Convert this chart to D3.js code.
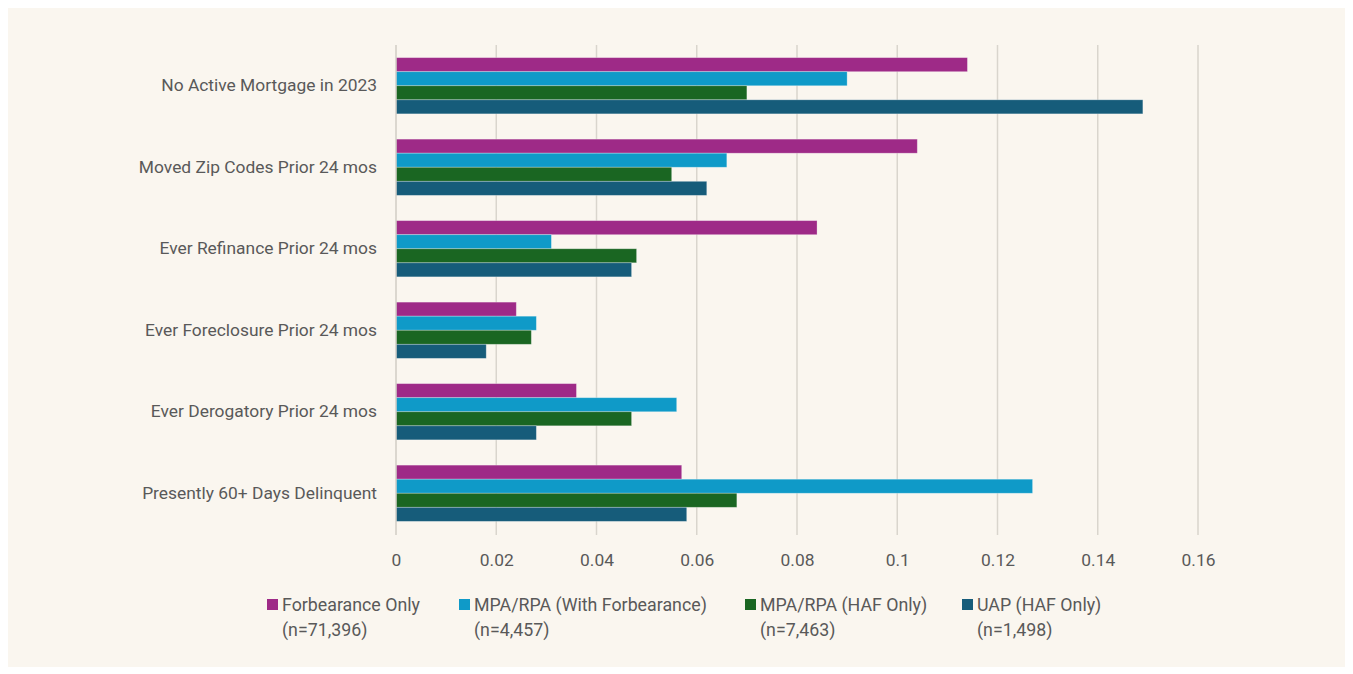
<!DOCTYPE html>
<html>
<head>
<meta charset="utf-8">
<script src="https://cdn.jsdelivr.net/npm/d3@7"></script>
<style>
  html, body { margin: 0; padding: 0; background: #ffffff; }
  svg { display: block; }
  text { font-family: "Roboto", "Liberation Sans", sans-serif; fill: #595959; }
</style>
</head>
<body>
<svg id="chart" width="1353" height="674"></svg>
<script>
const categories = [
  "No Active Mortgage in 2023",
  "Moved Zip Codes Prior 24 mos",
  "Ever Refinance Prior 24 mos",
  "Ever Foreclosure Prior 24 mos",
  "Ever Derogatory Prior 24 mos",
  "Presently 60+ Days Delinquent"
];
const seriesNames = ["Forbearance Only", "MPA/RPA (With Forbearance)", "MPA/RPA (HAF Only)", "UAP (HAF Only)"];
const seriesCounts = ["(n=71,396)", "(n=4,457)", "(n=7,463)", "(n=1,498)"];
const seriesColors = ["#9e2a87", "#0f9ac8", "#1a6622", "#165c7a"];
const forbearanceOnly = [0.114, 0.104, 0.084, 0.024, 0.036, 0.057];
const mpaWithForbearance = [0.090, 0.066, 0.031, 0.028, 0.056, 0.127];
const mpaHafOnly = [0.070, 0.055, 0.048, 0.027, 0.047, 0.068];
const uapHafOnly = [0.149, 0.062, 0.047, 0.018, 0.028, 0.058];
const xTicks = [0, 0.02, 0.04, 0.06, 0.08, 0.1, 0.12, 0.14, 0.16];

const seriesValues = [forbearanceOnly, mpaWithForbearance, mpaHafOnly, uapHafOnly];

const svg = d3.select("#chart");
svg.append("rect").attr("x", 8).attr("y", 8).attr("width", 1337).attr("height", 659).attr("fill", "#faf6ef");

const x = d3.scaleLinear().domain([0, 0.16]).range([396, 1198]);
const y = d3.scaleBand().domain(categories).range([45, 534]).paddingInner(0.31).paddingOuter(0.155);
const inner = d3.scaleBand().domain(d3.range(4)).range([0, y.bandwidth()]);

// vertical gridlines
svg.append("g").selectAll("line").data(xTicks.slice(1)).join("line")
  .attr("x1", d => x(d)).attr("x2", d => x(d))
  .attr("y1", 45).attr("y2", 535)
  .attr("stroke", "#d9d5cd").attr("stroke-width", 1.5);

// bars
categories.forEach((c, ci) => {
  svg.append("g").selectAll("rect").data(seriesValues.map((s, si) => ({ si, v: s[ci] }))).join("rect")
    .attr("x", x(0))
    .attr("y", d => y(c) + inner(d.si))
    .attr("width", d => x(d.v) - x(0))
    .attr("height", inner.bandwidth())
    .attr("fill", d => seriesColors[d.si])
    .attr("stroke", "rgba(255,255,255,0.35)")
    .attr("stroke-width", 0.8);
});

// category axis line
svg.append("line").attr("x1", x(0)).attr("x2", x(0)).attr("y1", 45).attr("y2", 535)
  .attr("stroke", "#d0ccc4").attr("stroke-width", 1.5);

// category labels
const yAxis = svg.append("g").attr("transform", `translate(${x(0)},0)`)
  .call(d3.axisLeft(y).tickSize(0).tickPadding(19));
yAxis.select(".domain").remove();
yAxis.selectAll("text").style("font-size", "17.4px").attr("fill", "#595959")
  .style("font-family", '"Roboto", sans-serif');

// value axis
const xAxis = svg.append("g").attr("transform", "translate(0,535)")
  .call(d3.axisBottom(x).tickValues(xTicks).tickFormat(d => String(d)).tickSize(0).tickPadding(19));
xAxis.select(".domain").remove();
xAxis.selectAll("text").style("font-size", "17.4px").attr("fill", "#595959")
  .style("font-family", '"Roboto", sans-serif');

// legend
const legendX = [267, 459, 745, 962];
const legend = svg.append("g").selectAll("g").data(seriesNames).join("g")
  .attr("transform", (d, i) => `translate(${legendX[i]},0)`);
legend.append("rect").attr("x", 0).attr("y", 599).attr("width", 11).attr("height", 11)
  .attr("fill", (d, i) => seriesColors[i]);
legend.append("text").attr("x", 15).attr("y", 611).style("font-size", "17.8px").text(d => d);
legend.append("text").attr("x", 15).attr("y", 636).style("font-size", "17.8px").text((d, i) => seriesCounts[i]);
</script>
</body>
</html>
